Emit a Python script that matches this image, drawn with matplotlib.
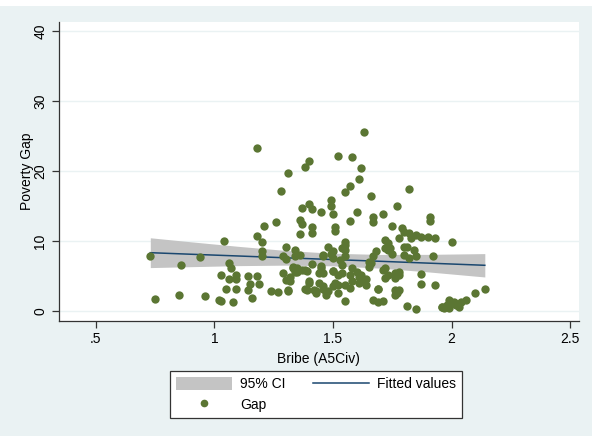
import matplotlib
matplotlib.use("Agg")
import matplotlib.pyplot as plt
import matplotlib.patches
import matplotlib.lines

# scatter: Bribe (A5Civ) vs Poverty Gap
GAP_X = [
    0.73, 0.75, 0.85, 0.86, 0.94, 0.96, 1.02, 1.03, 1.04, 1.06, 1.07, 1.09,
    1.03, 1.06, 1.14, 1.18, 1.15, 1.19, 1.14, 1.05, 1.09, 1.08, 1.16, 1.09,
    1.18, 1.31, 1.28, 1.26, 1.21, 1.18, 1.20, 1.20, 1.20, 1.30, 1.34, 1.34,
    1.36, 1.29, 1.30, 1.33, 1.29, 1.30, 1.34, 1.35, 1.37, 1.39, 1.24, 1.27,
    1.31, 1.32, 1.33, 1.32, 1.31, 1.39, 1.40, 1.44, 1.46, 1.48, 1.42, 1.43,
    1.38, 1.40, 1.43, 1.46, 1.47, 1.47,
    1.38, 1.40, 1.52, 1.58, 1.63, 1.62, 1.61, 1.57, 1.55, 1.66, 1.40, 1.37,
    1.41, 1.49, 1.49, 1.50, 1.45, 1.60, 1.57, 1.36, 1.37, 1.41, 1.41, 1.36,
    1.51, 1.51, 1.48, 1.49, 1.46, 1.55, 1.55, 1.55, 1.53, 1.41, 1.45, 1.44,
    1.50, 1.52, 1.54, 1.57, 1.58, 1.61, 1.62, 1.64, 1.52, 1.52, 1.55, 1.61,
    1.64, 1.46, 1.50, 1.50, 1.55, 1.54, 1.54, 1.38, 1.35, 1.45, 1.46, 1.50,
    1.51, 1.55, 1.57, 1.58, 1.60, 1.62, 1.63, 1.50,
    1.82, 1.77, 1.71, 1.67, 1.67, 1.75, 1.79, 1.80, 1.78, 1.72, 1.73, 1.74,
    1.75, 1.81, 1.68, 1.67, 1.65, 1.65, 1.82, 1.83, 1.85, 1.87, 1.90, 1.93,
    1.91, 1.91, 1.72, 1.73, 1.80, 1.80, 1.84, 1.85, 1.82, 1.66, 1.92, 1.72,
    1.73, 1.76, 1.78, 1.78, 1.76, 1.71, 1.72, 1.87, 1.87, 1.93, 1.69, 1.69,
    1.76, 1.77, 1.76, 1.78, 1.67, 1.69, 1.71, 1.81, 1.85, 2.00,
    1.96, 1.98, 1.99, 2.01, 2.02, 2.04, 2.03, 2.06, 2.10, 2.14, 1.97, 1.99,
    2.00, 1.96,
]
GAP_Y = [
    7.8, 1.7, 2.3, 6.5, 7.7, 2.1, 1.6, 1.4, 10.0, 6.8, 6.1, 5.2,
    5.2, 4.6, 5.0, 5.0, 3.8, 3.9, 3.0, 3.1, 3.1, 1.3, 1.9, 4.5,
    23.3, 19.7, 17.1, 12.7, 12.2, 10.7, 9.8, 8.5, 7.9, 9.2, 8.7, 7.8,
    8.0, 7.9, 7.4, 6.3, 5.4, 4.4, 5.6, 5.5, 5.8, 5.7, 2.9, 2.7,
    3.0, 4.3, 6.1, 4.9, 2.9, 3.0, 4.3, 4.0, 3.6, 2.8, 3.0, 2.6,
    3.2, 4.0, 2.9, 3.2, 2.7, 2.3,
    20.6, 21.4, 22.1, 22.0, 25.6, 20.5, 18.8, 17.8, 17.0, 16.4, 15.3, 14.7,
    14.6, 15.8, 15.0, 13.8, 14.2, 14.1, 12.9, 13.0, 12.5, 12.0, 11.2, 11.0,
    12.0, 11.5, 9.2, 8.2, 7.9, 9.5, 8.7, 7.8, 7.3, 6.7, 6.4, 5.4,
    5.7, 5.1, 5.4, 5.1, 4.3, 4.9, 4.3, 4.5, 3.7, 2.6, 1.4, 4.0,
    3.7, 8.0, 8.5, 7.5, 9.8, 9.0, 6.6, 5.9, 6.1, 6.1, 5.4, 3.5,
    4.0, 3.7, 3.3, 6.1, 5.6, 5.1, 4.3, 5.7,
    17.4, 15.0, 13.9, 13.4, 12.7, 12.2, 11.9, 11.3, 10.5, 10.1, 9.7, 9.0,
    8.2, 9.2, 8.5, 7.9, 7.0, 6.3, 11.1, 10.5, 10.8, 10.6, 10.6, 10.4,
    13.5, 12.9, 9.0, 8.7, 9.2, 8.0, 8.7, 7.8, 7.5, 6.8, 7.9, 6.1,
    5.1, 5.4, 5.6, 5.1, 4.7, 5.9, 4.7, 5.3, 3.8, 3.7, 3.2, 3.1,
    3.0, 2.5, 2.3, 3.0, 1.5, 1.3, 1.4, 0.7, 0.3, 9.9,
    0.5, 0.9, 1.6, 1.3, 0.9, 1.3, 0.6, 1.6, 2.5, 3.1, 0.4, 0.4,
    1.1, 0.6,
]

# linear fit and 95% CI
FIT_X = [0.73, 0.90, 1.10, 1.30, 1.50, 1.70, 1.90, 2.14]
FIT_Y = [8.33, 8.11, 7.86, 7.60, 7.35, 7.10, 6.84, 6.53]
CI_LO = [6.20, 6.33, 6.48, 6.55, 6.45, 6.12, 5.59, 4.86]
CI_HI = [10.46, 9.89, 9.24, 8.65, 8.25, 8.08, 8.09, 8.20]

X_TICKS = [0.5, 1, 1.5, 2, 2.5]
X_TICKLABELS = [".5", "1", "1.5", "2", "2.5"]
Y_TICKS = [0, 10, 20, 30, 40]

BG = "#eaf2f3"
DOT = "#5b7633"
NAVY = "#1a476f"
CI_GRAY = "#c4c4c4"
AXCOL = "#333333"

plt.rcParams["font.family"] = ["Liberation Sans", "DejaVu Sans"]
plt.rcParams["font.size"] = 10

fig = plt.figure(figsize=(5.92, 4.36), dpi=100, facecolor=BG)
fig.patches.append(
    matplotlib.patches.Rectangle(
        (0, 1 - 6 / 436), 1, 6 / 436, transform=fig.transFigure,
        facecolor="white", edgecolor="none", zorder=0,
    )
)
ax = fig.add_axes([58.5 / 592, 1 - 321 / 436, 520.5 / 592, 299 / 436])
ax.set_facecolor("white")

ax.fill_between(FIT_X, CI_LO, CI_HI, color=CI_GRAY, linewidth=0, zorder=2)
ax.plot(FIT_X, FIT_Y, color=NAVY, linewidth=1.1, zorder=3)
ax.scatter(GAP_X, GAP_Y, s=36, color=DOT, linewidths=0, zorder=4)

ax.set_xlim(0.343, 2.537)
ax.set_ylim(-1.43, 41.29)
ax.set_xticks(X_TICKS)
ax.set_xticklabels(X_TICKLABELS)
ax.set_yticks(Y_TICKS)
ax.set_yticklabels([str(t) for t in Y_TICKS], rotation=90, va="center")
ax.grid(True, axis="y", color="#eaf2f3", linewidth=1.0, zorder=1)
ax.set_axisbelow(True)
for side in ["top", "right"]:
    ax.spines[side].set_visible(False)
for side in ["left", "bottom"]:
    ax.spines[side].set_color(AXCOL)
    ax.spines[side].set_linewidth(0.9)
ax.tick_params(axis="both", direction="out", length=5, width=0.9,
               color=AXCOL, labelcolor="black", labelsize=10)
ax.tick_params(axis="x", pad=3)
ax.tick_params(axis="y", pad=3)
ax.set_xlabel("Bribe (A5Civ)", fontsize=10, labelpad=4)
ax.set_ylabel("Poverty Gap", fontsize=10)
ax.yaxis.set_label_coords(-0.048, 0.5)

h_ci = matplotlib.patches.Patch(facecolor=CI_GRAY, edgecolor="none")
h_fit = matplotlib.lines.Line2D([], [], color=NAVY, linewidth=1.1)
h_gap = matplotlib.lines.Line2D([], [], color=DOT, marker="o", linestyle="none",
                                markersize=5.5, markeredgewidth=0)
leg = fig.legend(
    [h_ci, h_gap, h_fit], ["95% CI", "Gap", "Fitted values"],
    ncol=2, loc="center", bbox_to_anchor=(316 / 592, 1 - 394.5 / 436),
    fancybox=False, framealpha=1, edgecolor=AXCOL, fontsize=10,
    handlelength=4.0, handleheight=1.1, columnspacing=2.0,
    labelspacing=0.45, borderpad=0.45, handletextpad=0.6,
)
leg.get_frame().set_linewidth(0.9)

fig.savefig("out.png", dpi=100, facecolor=BG)
